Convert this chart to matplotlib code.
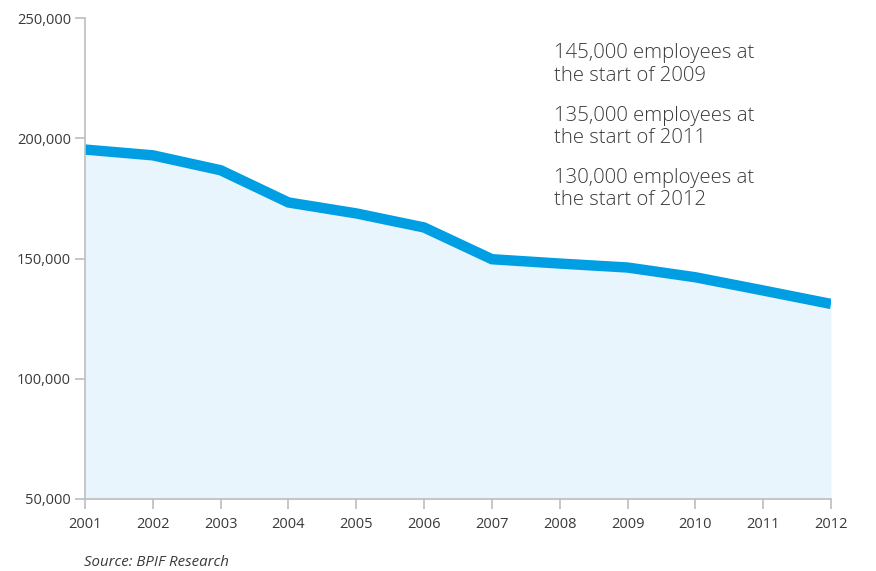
import matplotlib.pyplot as plt
from matplotlib.ticker import FuncFormatter

plt.rcParams['font.family'] = ['Open Sans', 'DejaVu Sans']

years = [2001, 2002, 2003, 2004, 2005, 2006, 2007, 2008, 2009, 2010, 2011, 2012]
employees = [195300, 192900, 186700, 173300, 168750, 162900,
             149700, 147900, 146250, 142200, 136700, 131100]
notes = [
    "145,000 employees at\nthe start of 2009",
    "135,000 employees at\nthe start of 2011",
    "130,000 employees at\nthe start of 2012",
]

line_col = '#009fe3'
fill_col = '#e8f5fd'
text_col = '#3a3a3a'
axis_col = '#bdbdbd'

fig = plt.figure(figsize=(8.76, 5.71), dpi=100)
ax = fig.add_axes([85 / 876, 72 / 571, 746 / 876, 481 / 571])

ax.fill_between(years, employees, 50000, color=fill_col, lw=0)
ax.plot(years, employees, color=line_col, lw=7.5, solid_joinstyle='miter',
        solid_capstyle='butt')

ax.set_xlim(2001, 2012)
ax.set_ylim(50000, 250000)
ax.set_xticks(years)
ax.set_yticks([50000, 100000, 150000, 200000, 250000])
ax.yaxis.set_major_formatter(FuncFormatter(lambda v, p: f'{int(v):,}'))

for s in ['top', 'right']:
    ax.spines[s].set_visible(False)
for s in ['left', 'bottom']:
    ax.spines[s].set_color(axis_col)
    ax.spines[s].set_linewidth(1.2)

ax.tick_params(axis='both', colors=axis_col, labelcolor=text_col,
               labelsize=10.5, length=7, width=1.2)
ax.tick_params(axis='x', pad=6)
ax.tick_params(axis='y', pad=3)

ys = [0.948, 0.818, 0.689]
for y, t in zip(ys, notes):
    ax.text(0.629, y, t, transform=ax.transAxes, fontsize=14.7, color=text_col,
            va='top', ha='left', linespacing=1.17, fontweight='light')

fig.text(84 / 876, 1 - 563 / 571, 'Source: BPIF Research', fontsize=10.8,
         style='italic', color=text_col, va='center', ha='left')

fig.savefig('out.png', dpi=100)
